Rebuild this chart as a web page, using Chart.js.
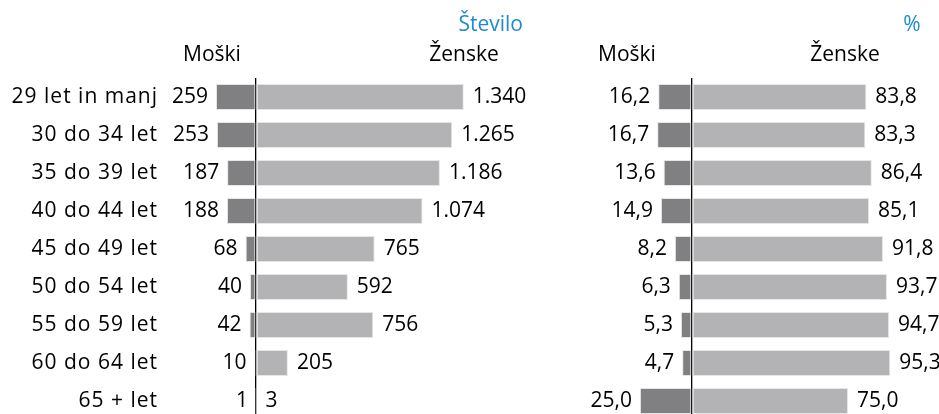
<!DOCTYPE html>
<html>
<head>
<meta charset="utf-8">
<script src="https://cdn.jsdelivr.net/npm/chart.js@4"></script>
<style>
  html, body { margin: 0; padding: 0; background: #fff; overflow: hidden; }
  #wrap { position: relative; width: 939px; height: 414px; overflow: hidden; font-family: 'Open Sans', sans-serif; }
  #levo { position: absolute; left: 0; top: 0; }
  #desno { position: absolute; left: 560px; top: 0; }
  .nasl { position: absolute; font-size: 21px; color: #000; white-space: nowrap; line-height: 1; }
  .modro { color: #1f8ad2; }
</style>
</head>
<body>
<div id="wrap">
  <canvas id="levo" width="560" height="440"></canvas>
  <canvas id="desno" width="379" height="440"></canvas>
  <div class="nasl modro" style="right:416px; top:13px;">Število</div>
  <div class="nasl" style="left:212px; top:43px; transform:translateX(-50%);">Moški</div>
  <div class="nasl" style="left:464px; top:43px; transform:translateX(-50%);">Ženske</div>
  <div class="nasl modro" style="left:912px; top:13px; transform:translateX(-50%);">%</div>
  <div class="nasl" style="left:627px; top:43px; transform:translateX(-50%);">Moški</div>
  <div class="nasl" style="left:845px; top:43px; transform:translateX(-50%);">Ženske</div>
</div>
<script>
const starost = ['29 let in manj', '30 do 34 let', '35 do 39 let', '40 do 44 let', '45 do 49 let', '50 do 54 let', '55 do 59 let', '60 do 64 let', '65 + let'];
const moskiStevilo = [259, 253, 187, 188, 68, 40, 42, 10, 1];
const zenskeStevilo = [1340, 1265, 1186, 1074, 765, 592, 756, 205, 3];
const moskiOdstotek = [16.2, 16.7, 13.6, 14.9, 8.2, 6.3, 5.3, 4.7, 25.0];
const zenskeOdstotek = [83.8, 83.3, 86.4, 85.1, 91.8, 93.7, 94.7, 95.3, 75.0];

const BARVA_M = '#808083';
const BARVA_Z = '#b3b3b5';
const PISAVA = "'Open Sans', sans-serif";
const VELIKOST = 21;

// 1340 -> "1.340"
const formatStevilo = (v) => String(Math.abs(v)).replace(/\B(?=(\d{3})+(?!\d))/g, '.');
// 16.2 -> "16,2"
const formatOdstotek = (v) => Math.abs(v).toFixed(1).replace('.', ',');

const oznakePlugin = (format) => ({
    id: 'oznake',
    beforeDraw(chart) {
        // kategorije so v izvirniku malo bolj razprte
        chart.ctx.letterSpacing = '1px';
    },
    beforeDatasetsDraw(chart) {
        chart.ctx.letterSpacing = '0px';
    },
    afterDatasetsDraw(chart) {
        const ctx = chart.ctx;
        ctx.save();
        ctx.font = `${VELIKOST}px ${PISAVA}`;
        ctx.fillStyle = '#000';
        ctx.textBaseline = 'middle';
        chart.data.datasets.forEach((ds, i) => {
            const meta = chart.getDatasetMeta(i);
            meta.data.forEach((el, j) => {
                const v = ds.data[j];
                if (v < 0) {
                    ctx.textAlign = 'right';
                    ctx.fillText(format(v), el.x - 8, el.y);
                } else {
                    ctx.textAlign = 'left';
                    ctx.fillText(format(v), el.x + 9, el.y);
                }
            });
        });
        ctx.restore();
    }
});

const narediGraf = (canvas, moski, zenske, min, max, format, kazeKategorije, padLevo) => {
    return new Chart(canvas, {
        type: 'bar',
        data: {
            labels: starost,
            datasets: [{
                label: 'Moški',
                data: moski.map(v => -v),
                backgroundColor: BARVA_M,
                borderColor: '#e6e6e6',
                borderWidth: 1,
                borderSkipped: false
            }, {
                label: 'Ženske',
                data: zenske,
                backgroundColor: BARVA_Z,
                borderColor: '#e6e6e6',
                borderWidth: 1,
                borderSkipped: false
            }]
        },
        options: {
            indexAxis: 'y',
            responsive: false,
            animation: false,
            events: [],
            datasets: {
                bar: { categoryPercentage: 1, barPercentage: 0.69 }
            },
            layout: {
                padding: { top: 78, bottom: 20, left: padLevo, right: 0 }
            },
            scales: {
                x: {
                    stacked: true,
                    min: min,
                    max: max,
                    ticks: { display: false },
                    border: { display: false },
                    grid: {
                        drawTicks: false,
                        lineWidth: 1.3,
                        color: (c) => c.tick && c.tick.value === 0 ? '#000' : 'rgba(0,0,0,0)'
                    },
                    afterBuildTicks: (scale) => {
                        scale.ticks = [{ value: 0 }];
                    }
                },
                y: {
                    stacked: true,
                    display: kazeKategorije,
                    border: { display: false },
                    grid: { display: false, drawTicks: false },
                    ticks: {
                        color: '#000',
                        padding: 7,
                        font: { family: PISAVA, size: VELIKOST }
                    },
                    afterFit: (scale) => {
                        if (kazeKategorije) scale.width = 165;
                    }
                }
            },
            plugins: {
                legend: { display: false },
                tooltip: { enabled: false }
            }
        },
        plugins: [oznakePlugin(format)]
    });
};

narediGraf(document.querySelector('#levo'), moskiStevilo, zenskeStevilo, -588, 1961, formatStevilo, true, 0);
narediGraf(document.querySelector('#desno'), moskiOdstotek, zenskeOdstotek, -58.6, 118.7, formatOdstotek, false, 10);
</script>
</body>
</html>
